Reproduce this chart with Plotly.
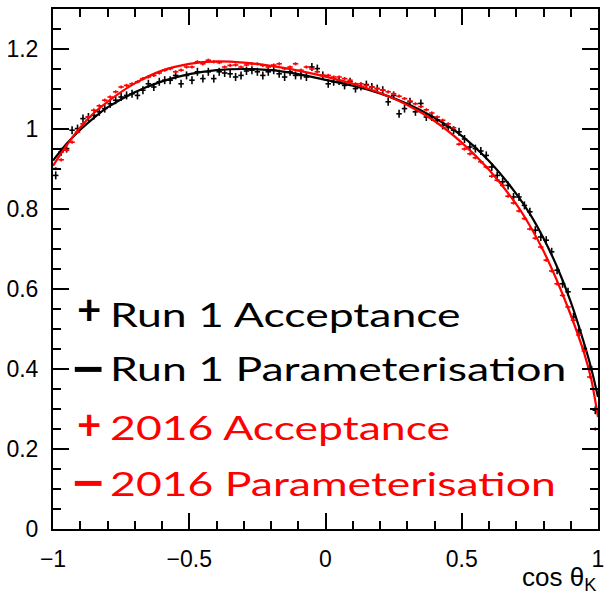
import numpy as np
import plotly.graph_objects as go

# cos(theta_K) histogram binning: 100 equal bins over [-1, 1]
bin_edges = np.linspace(-1.0, 1.0, 101)
bin_centres = 0.5 * (bin_edges[:-1] + bin_edges[1:])
bin_half_width = 0.01

# Run 1 acceptance per bin
run1_acceptance = [
    0.884, 0.943, 0.951, 0.997, 1.001, 1.026, 1.030, 1.034, 1.043, 1.051,
    1.063, 1.072, 1.080, 1.084, 1.088, 1.084, 1.097, 1.113, 1.105, 1.118,
    1.122, 1.122, 1.134, 1.113, 1.134, 1.122, 1.143, 1.126, 1.143, 1.126,
    1.143, 1.140, 1.138, 1.130, 1.134, 1.145, 1.147, 1.143, 1.134, 1.143,
    1.147, 1.138, 1.130, 1.143, 1.134, 1.134, 1.130, 1.155, 1.151, 1.134,
    1.113, 1.118, 1.120, 1.109, 1.118, 1.101, 1.106, 1.111, 1.105, 1.101,
    1.097, 1.068, 1.084, 1.038, 1.051, 1.068, 1.043, 1.064, 1.030, 1.030,
    1.022, 1.009, 1.005, 0.997, 0.993, 0.975, 0.955, 0.951, 0.945, 0.934,
    0.905, 0.884, 0.868, 0.859, 0.830, 0.830, 0.809, 0.793, 0.747, 0.730,
    0.722, 0.693, 0.647, 0.613, 0.593, 0.530, 0.497, 0.451, 0.405, 0.297,
]
run1_error = 0.010

# 2016 acceptance per bin
acceptance_2016 = [
    0.901, 0.923, 0.947, 0.967, 0.992, 1.013, 1.030, 1.047, 1.058, 1.072,
    1.080, 1.093, 1.105, 1.109, 1.113, 1.118, 1.126, 1.130, 1.134, 1.140,
    1.147, 1.151, 1.143, 1.147, 1.155, 1.155, 1.168, 1.163, 1.172, 1.168,
    1.166, 1.155, 1.159, 1.160, 1.155, 1.160, 1.163, 1.163, 1.159, 1.155,
    1.160, 1.163, 1.151, 1.155, 1.163, 1.147, 1.155, 1.150, 1.143, 1.134,
    1.134, 1.130, 1.130, 1.126, 1.122, 1.113, 1.113, 1.109, 1.105, 1.101,
    1.097, 1.093, 1.088, 1.082, 1.076, 1.070, 1.063, 1.056, 1.048, 1.040,
    1.030, 1.022, 1.013, 1.003, 0.962, 0.950, 0.938, 0.928, 0.918, 0.905,
    0.882, 0.872, 0.859, 0.832, 0.815, 0.795, 0.776, 0.750, 0.727, 0.705,
    0.672, 0.645, 0.613, 0.584, 0.555, 0.522, 0.485, 0.445, 0.380, 0.250,
]
error_2016 = 0.004

# Fitted parameterisations, tabulated in cos(theta_K)
param_cos = [
    -1.0, -0.95, -0.9, -0.85, -0.8, -0.7, -0.6, -0.5, -0.4, -0.3, -0.2, -0.1,
    0.0, 0.1, 0.2, 0.3, 0.4, 0.5, 0.6, 0.7, 0.75, 0.8, 0.85, 0.9, 0.95, 0.975, 1.0,
]
run1_param = [
    0.921, 0.963, 0.998, 1.028, 1.054, 1.092, 1.119, 1.137, 1.147, 1.150, 1.147, 1.137,
    1.123, 1.108, 1.089, 1.063, 1.028, 0.983, 0.920, 0.838, 0.788, 0.727, 0.655, 0.568,
    0.462, 0.402, 0.330,
]
param_2016 = [
    0.908, 0.959, 1.004, 1.040, 1.068, 1.114, 1.146, 1.163, 1.169, 1.166, 1.158, 1.146,
    1.131, 1.113, 1.090, 1.060, 1.020, 0.966, 0.898, 0.812, 0.758, 0.695, 0.620, 0.535,
    0.438, 0.375, 0.280,
]

legend_entries = [
    ("+", "Run 1 Acceptance", "black"),
    ("line", "Run 1 Parameterisation", "black"),
    ("+", "2016 Acceptance", "red"),
    ("line", "2016 Parameterisation", "red"),
]
legend_text_y = [0.537, 0.403, 0.256, 0.116]
legend_symbol_y = [0.549, 0.399, 0.262, 0.114]

fig = go.Figure()


def add_points(values, err, colour):
    fig.add_trace(go.Scatter(
        x=bin_centres, y=values, mode="markers",
        marker=dict(size=1, color=colour),
        error_x=dict(type="constant", value=bin_half_width, width=0,
                     thickness=1.6, color=colour),
        error_y=dict(type="constant", value=err, width=0,
                     thickness=1.6, color=colour),
        showlegend=False, hoverinfo="skip",
    ))


def add_curve(values, colour):
    fig.add_trace(go.Scatter(
        x=param_cos, y=values, mode="lines",
        line=dict(color=colour, width=2.2, shape="spline", smoothing=0.8),
        showlegend=False, hoverinfo="skip",
    ))


add_points(run1_acceptance, run1_error, "black")
add_curve(run1_param, "black")
add_points(acceptance_2016, error_2016, "red")
add_curve(param_2016, "red")

legend_font = "Lato, 'Open Sans', sans-serif"
symbol_x = -0.869
text_x = -0.797
for (kind, label, colour), ty, sy in zip(legend_entries, legend_text_y,
                                         legend_symbol_y):
    if kind == "+":
        fig.add_annotation(x=symbol_x, y=sy, xref="x", yref="y",
                           text="+", showarrow=False, xanchor="center",
                           yanchor="middle",
                           font=dict(family=legend_font, size=42,
                                     weight="bold", color=colour))
    else:
        fig.add_shape(type="line", xref="x", yref="y",
                      x0=-0.92, x1=-0.822, y0=sy, y1=sy,
                      line=dict(color=colour, width=5))
    fig.add_annotation(x=text_x, y=ty, xref="x", yref="y",
                       text=label, showarrow=False, xanchor="left",
                       yanchor="middle", name="legend-label",
                       font=dict(family=legend_font, size=33, color=colour))

# x-axis title, right aligned below the frame
fig.add_annotation(x=1.0, y=-0.095, xref="paper", yref="paper",
                   text="cos θ<sub>K</sub>", showarrow=False,
                   xanchor="right", yanchor="middle",
                   font=dict(family="Liberation Sans, Arial, sans-serif",
                             size=26, color="black"))

axis_common = dict(
    showgrid=False, zeroline=False,
    showline=True, linecolor="black", linewidth=2, mirror="ticks",
    ticks="inside", tickcolor="black", tickwidth=1.5,
    ticklabeloverflow="allow",
    tickfont=dict(family="Liberation Sans, Arial, sans-serif", size=23,
                  color="black"),
)

fig.update_xaxes(range=[-1, 1], tick0=-1, dtick=0.5, ticklen=16,
                 minor=dict(dtick=0.1, ticks="inside", ticklen=8,
                            tickwidth=1.5, tickcolor="black"),
                 ticklabelstandoff=8, **axis_common)
fig.update_yaxes(range=[0, 1.3], tick0=0, dtick=0.2, ticklen=16,
                 minor=dict(dtick=0.05, ticks="inside", ticklen=8,
                            tickwidth=1.5, tickcolor="black"),
                 ticklabelstandoff=8, **axis_common)

fig.update_layout(
    width=605, height=595,
    margin=dict(l=53, r=1, t=9, b=66),
    paper_bgcolor="white", plot_bgcolor="white",
    showlegend=False,
)

# The legend labels are set in a wide face: widen the glyphs horizontally
# about each label's left edge.
label_texts = [label for _, label, _ in legend_entries]
widen_script = """
var gd = document.getElementById('{plot_id}');
var labels = %s;
var sx = 1.35;
function widenLabels() {
  gd.querySelectorAll('text.annotation-text').forEach(function (t) {
    if (labels.indexOf(t.textContent) < 0) { return; }
    t.removeAttribute('transform');
    var x0 = t.getBBox().x;
    t.setAttribute('transform',
      'translate(' + (x0 * (1 - sx)) + ',0) scale(' + sx + ',1)');
  });
}
widenLabels();
gd.on('plotly_afterplot', widenLabels);
""" % (str(label_texts).replace("'", '"'))

fig.write_html("out.html", post_script=widen_script)
